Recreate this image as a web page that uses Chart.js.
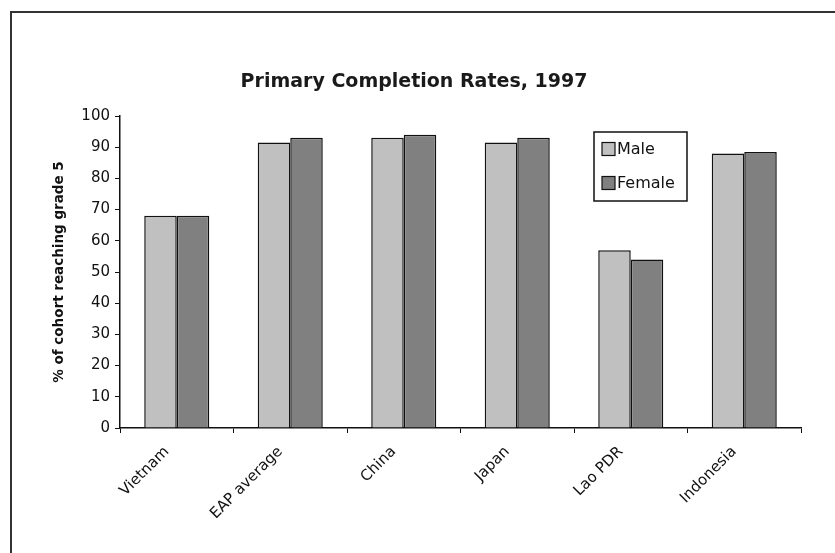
<!DOCTYPE html>
<html>
<head>
<meta charset="utf-8">
<script src="https://cdn.jsdelivr.net/npm/chart.js@4.4.0/dist/chart.umd.min.js"></script>
<style>
  html, body { margin: 0; padding: 0; background: #fff; }
  #wrap { position: relative; width: 835px; height: 553px; overflow: hidden; }
  #frame { position: absolute; left: 10px; top: 11px; width: 900px; height: 600px;
           border-left: 2px solid #333; border-top: 2px solid #333; }
  #chart { position: absolute; left: 0; top: 0; }
</style>
</head>
<body>
<div id="wrap">
  <div id="frame"></div>
  <canvas id="chart" width="835" height="553"></canvas>
</div>
<script>
const countries = ['Vietnam', 'EAP average', 'China', 'Japan', 'Lao PDR', 'Indonesia'];
const maleRates = [68, 91.5, 93, 91.5, 57, 88];
const femaleRates = [68, 93, 94, 93, 54, 88.5];
const yTicks = [0, 10, 20, 30, 40, 50, 60, 70, 80, 90, 100];

const FONT = 'DejaVu Sans';

// legend with a box round it, like the spreadsheet one
const boxLegend = {
  id: 'boxLegend',
  afterDraw(chart) {
    const ctx = chart.ctx;
    ctx.save();
    ctx.fillStyle = '#fff';
    ctx.strokeStyle = '#111';
    ctx.lineWidth = 1.5;
    ctx.fillRect(594, 132, 93, 69);
    ctx.strokeRect(594, 132, 93, 69);
    ctx.font = '16px ' + FONT;
    ctx.textBaseline = 'middle';
    chart.data.datasets.forEach((ds, i) => {
      const cy = 149 + i * 34;
      ctx.fillStyle = ds.backgroundColor;
      ctx.fillRect(602, cy - 6.5, 13, 13);
      ctx.lineWidth = 1.2;
      ctx.strokeRect(602, cy - 6.5, 13, 13);
      ctx.fillStyle = '#111';
      ctx.fillText(ds.label, 617, cy + 1);
    });
    ctx.restore();
  }
};

new Chart(document.getElementById('chart').getContext('2d'), {
  type: 'bar',
  data: {
    labels: countries,
    datasets: [{
      label: 'Male',
      data: maleRates,
      backgroundColor: '#c0c0c0',
      borderColor: '#111',
      borderWidth: 1.5,
      categoryPercentage: 0.573,
      barPercentage: 1.0
    }, {
      label: 'Female',
      data: femaleRates,
      backgroundColor: '#808080',
      borderColor: '#111',
      borderWidth: 1.5,
      categoryPercentage: 0.573,
      barPercentage: 1.0
    }]
  },
  options: {
    responsive: false,
    animation: false,
    layout: { padding: { left: 27, right: 34, top: 0, bottom: 0 } },
    plugins: {
      legend: { display: false },
      tooltip: { enabled: false },
      title: {
        display: true,
        text: 'Primary Completion Rates, 1997',
        color: '#1a1a1a',
        font: { family: FONT, size: 19, weight: 'bold' },
        padding: { top: 71, bottom: 22.2 }
      }
    },
    scales: {
      x: {
        grid: { drawOnChartArea: false, drawTicks: true, tickLength: 5, color: '#111', offset: true },
        border: { color: '#111', width: 1.5 },
        ticks: {
          color: '#111',
          font: { family: FONT, size: 15 },
          maxRotation: 45,
          minRotation: 45,
          autoSkip: false,
          padding: 10,
          labelOffset: -10
        },
        afterFit(scale) { scale.height = 125; }
      },
      y: {
        min: 0,
        max: 100,
        afterBuildTicks(scale) { scale.ticks = yTicks.map(v => ({ value: v })); },
        grid: { drawOnChartArea: false, drawTicks: true, tickLength: 5, color: '#111' },
        border: { color: '#111', width: 1.5 },
        ticks: { color: '#111', font: { family: FONT, size: 15 }, padding: 5 },
        title: {
          display: true,
          text: '% of cohort reaching grade 5',
          color: '#111',
          font: { family: FONT, size: 13.5, weight: 'bold' },
          padding: { top: 24.5, bottom: 0 }
        },
        afterFit(scale) { scale.width = 93; }
      }
    }
  },
  plugins: [boxLegend]
});
</script>
</body>
</html>
